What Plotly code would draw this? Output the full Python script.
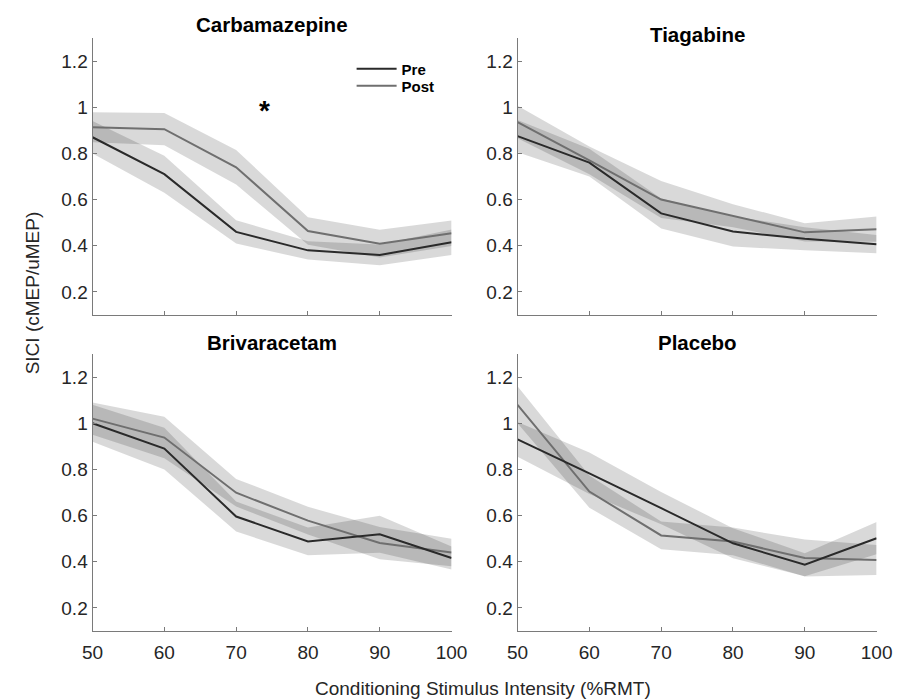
import plotly.graph_objects as go

# Conditioning stimulus intensities (%RMT)
intensity = [50, 60, 70, 80, 90, 100]

panels = ["Carbamazepine", "Tiagabine", "Brivaracetam", "Placebo"]

# SICI means (cMEP/uMEP) and standard errors, pre and post drug
pre_mean = {
    "Carbamazepine": [0.87, 0.71, 0.46, 0.38, 0.36, 0.415],
    "Tiagabine":     [0.875, 0.76, 0.54, 0.462, 0.43, 0.407],
    "Brivaracetam":  [1.0, 0.89, 0.596, 0.488, 0.519, 0.416],
    "Placebo":       [0.93, 0.783, 0.632, 0.48, 0.387, 0.502],
}
pre_sem = {
    "Carbamazepine": [0.07, 0.08, 0.05, 0.04, 0.045, 0.055],
    "Tiagabine":     [0.07, 0.06, 0.065, 0.065, 0.05, 0.04],
    "Brivaracetam":  [0.08, 0.09, 0.065, 0.06, 0.08, 0.05],
    "Placebo":       [0.075, 0.09, 0.07, 0.065, 0.05, 0.07],
}
post_mean = {
    "Carbamazepine": [0.913, 0.905, 0.74, 0.464, 0.409, 0.454],
    "Tiagabine":     [0.936, 0.77, 0.60, 0.53, 0.458, 0.472],
    "Brivaracetam":  [1.02, 0.938, 0.699, 0.578, 0.481, 0.44],
    "Placebo":       [1.08, 0.704, 0.514, 0.488, 0.416, 0.408],
}
post_sem = {
    "Carbamazepine": [0.065, 0.07, 0.075, 0.06, 0.06, 0.055],
    "Tiagabine":     [0.07, 0.06, 0.08, 0.05, 0.04, 0.055],
    "Brivaracetam":  [0.07, 0.09, 0.06, 0.06, 0.07, 0.06],
    "Placebo":       [0.08, 0.07, 0.06, 0.06, 0.08, 0.065],
}

x_ticks = [50, 60, 70, 80, 90, 100]
y_ticks = [0.2, 0.4, 0.6, 0.8, 1.0, 1.2]
y_tick_text = ["0.2", "0.4", "0.6", "0.8", "1", "1.2"]

W, H = 912, 699
FONT = "Liberation Sans, Arial, Helvetica, sans-serif"
PRE_COLOR = "#2a2a2a"
POST_COLOR = "#6f6f6f"
BAND_COLOR = "rgba(0,0,0,0.15)"
TEXT_COLOR = "#262626"
AXIS_COLOR = "#7a7a7a"
TICK_SIZE = 19

# panel placement in pixels: (left, right, top, bottom)
boxes = [(84, 454, 38, 315), (522, 892, 38, 315),
         (84, 454, 354, 631), (522, 892, 354, 631)]
title_y = [25, 34, 342, 342]

fig = go.Figure()
layout = dict(
    width=W, height=H,
    margin=dict(l=0, r=0, t=0, b=0),
    paper_bgcolor="white", plot_bgcolor="white",
    font=dict(family=FONT, size=TICK_SIZE, color=TEXT_COLOR),
    showlegend=True,
)
annotations = []

for i, name in enumerate(panels):
    k = "" if i == 0 else str(i + 1)
    xa, ya = "x" + k, "y" + k
    l, r, t, b = boxes[i]
    bottom_row = i >= 2
    layout["xaxis" + k] = dict(
        domain=[l / W, r / W], range=[50, 100], anchor=ya,
        tickvals=x_ticks, showticklabels=bottom_row,
        ticks="inside", ticklen=4, tickcolor=AXIS_COLOR,
        ticklabelstandoff=4,
        showline=True, linecolor=AXIS_COLOR, linewidth=1,
        showgrid=False, zeroline=False,
        tickfont=dict(size=TICK_SIZE, color=TEXT_COLOR),
    )
    layout["yaxis" + k] = dict(
        domain=[1 - b / H, 1 - t / H], range=[0.1, 1.3], anchor=xa,
        tickvals=y_ticks, ticktext=y_tick_text,
        ticks="inside", ticklen=4, tickcolor=AXIS_COLOR,
        showline=True, linecolor=AXIS_COLOR, linewidth=1,
        showgrid=False, zeroline=False,
        tickfont=dict(size=TICK_SIZE, color=TEXT_COLOR),
    )

    # shaded SEM bands
    for mean, sem in ((pre_mean[name], pre_sem[name]),
                      (post_mean[name], post_sem[name])):
        upper = [m + s for m, s in zip(mean, sem)]
        lower = [m - s for m, s in zip(mean, sem)]
        fig.add_trace(go.Scatter(
            x=intensity + intensity[::-1], y=upper + lower[::-1],
            fill="toself", fillcolor=BAND_COLOR, line=dict(width=0),
            mode="lines", hoverinfo="skip", showlegend=False,
            xaxis=xa, yaxis=ya,
        ))

    fig.add_trace(go.Scatter(
        x=intensity, y=post_mean[name], mode="lines", name="<b>Post</b>",
        line=dict(color=POST_COLOR, width=2),
        showlegend=(i == 0), legend="legend2", xaxis=xa, yaxis=ya,
    ))
    fig.add_trace(go.Scatter(
        x=intensity, y=pre_mean[name], mode="lines", name="<b>Pre</b>",
        line=dict(color=PRE_COLOR, width=2),
        showlegend=(i == 0), legend="legend", xaxis=xa, yaxis=ya,
    ))

    annotations.append(dict(
        text="<b>%s</b>" % name, x=(l + r) / 2 / W, y=1 - title_y[i] / H,
        xref="paper", yref="paper", xanchor="center", yanchor="middle",
        showarrow=False, font=dict(size=20.5, color="black", family=FONT),
    ))

# significance marker
annotations.append(dict(
    text="<b>*</b>", x=74, y=0.985, xref="x", yref="y",
    xanchor="center", yanchor="middle", showarrow=False,
    font=dict(size=28, color="black", family=FONT),
))

# shared axis titles
annotations.append(dict(
    text="Conditioning Stimulus Intensity (%RMT)", x=486 / W, y=1 - 688 / H,
    xref="paper", yref="paper", xanchor="center", yanchor="middle",
    showarrow=False, font=dict(size=19, color=TEXT_COLOR, family=FONT),
))
annotations.append(dict(
    text="SICI (cMEP/uMEP)", x=22 / W, y=1 - 293 / H, textangle=-90,
    xref="paper", yref="paper", xanchor="center", yanchor="middle",
    showarrow=False, font=dict(size=19, color=TEXT_COLOR, family=FONT),
))

layout["annotations"] = annotations
legend_style = dict(
    xanchor="left", yanchor="middle", itemwidth=40,
    bgcolor="rgba(0,0,0,0)", borderwidth=0,
    font=dict(size=15, color="black", family=FONT),
)
layout["legend"] = dict(x=351 / W, y=1 - 69 / H, **legend_style)
layout["legend2"] = dict(x=351 / W, y=1 - 86 / H, **legend_style)
fig.update_layout(**layout)

fig.write_html("out.html")
